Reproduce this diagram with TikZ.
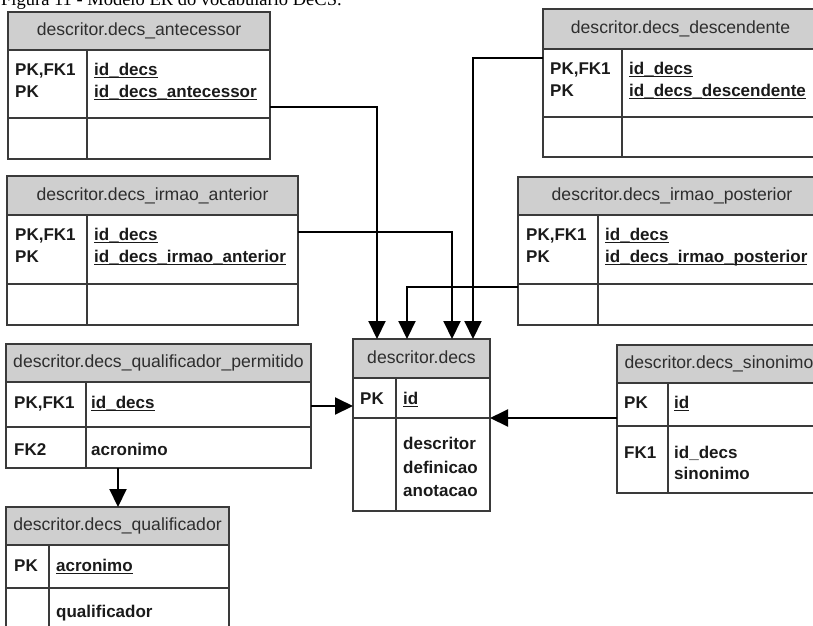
\documentclass[tikz,border=0pt]{standalone}
\usepackage{fontspec}
\setmainfont{Liberation Sans}
\newfontfamily\captionserif{Liberation Serif}
\usetikzlibrary{arrows.meta}

\definecolor{gridline}{HTML}{3A3A3A}
\definecolor{headfill}{HTML}{CFCFCF}
\definecolor{headtext}{HTML}{2E2E2E}
\definecolor{bodytext}{HTML}{1A1A1A}

% primary-key field: underlined just below the baseline
\newcommand\pkfield[1]{\setbox0\hbox{#1}\rlap{\rule[-3pt]{\wd0}{1.3pt}}\box0}

% one entity table: name, x-left, x-right, y-top, y-header, y-row, y-bottom, x-divider, title
\newcommand\ertable[9]{%
  \fill[headfill] (#2,#4) rectangle (#3,#5);
  \node[tableframe, minimum width={#3pt-#2pt}, minimum height={#7pt-#4pt}]
    (#1) at ({(#2+#3)/2},{(#4+#7)/2}) {};
  \draw[gridlines] (#2,#5) -- (#3,#5) (#2,#6) -- (#3,#6) (#8,#5) -- (#8,#7);
  \node[headlabel] (#1-title) at ({(#2+#3)/2},{(#4+#5)/2}) {#9};
}

\begin{document}
\begin{tikzpicture}[x=1pt, y=-1pt,
  tableframe/.style={draw=gridline, line width=1.4pt, rectangle, inner sep=0pt, outer sep=0pt},
  gridlines/.style={draw=gridline, line width=1.3pt},
  headlabel/.style={inner sep=0pt, text=headtext, text height=12.5pt, text depth=3pt,
    font=\fontsize{17.6}{20}\selectfont},
  fieldlabel/.style={anchor=base west, inner sep=0pt, text=bodytext,
    font=\fontsize{17}{20}\selectfont\bfseries},
  fklink/.style={draw=black, line width=2pt, line join=miter,
    -{Triangle[length=18pt, width=17pt]}}
]
\useasboundingbox (0,0) rectangle (813,625);
\clip (0,0) rectangle (813,625);

% caption line
\node[anchor=base west, inner sep=0pt, font=\captionserif\fontsize{18.5}{22}\selectfont]
  (caption) at (1,5) {Figura 11 - Modelo ER do vocabulário DeCS.};

% --- tables ---
\ertable{ant}{8}{270}{12}{50}{118}{159}{87}{descritor.decs\_antecessor}
\node[fieldlabel] (ant-k1) at (15,75) {PK,FK1};
\node[fieldlabel] (ant-k2) at (15,97) {PK};
\node[fieldlabel] (ant-f1) at (94,75) {\pkfield{id\_decs}};
\node[fieldlabel] (ant-f2) at (94,97) {\pkfield{id\_decs\_antecessor}};

\ertable{desc}{543}{818}{9}{49}{117}{157}{622}{descritor.decs\_descendente}
\node[fieldlabel] (desc-k1) at (550,74) {PK,FK1};
\node[fieldlabel] (desc-k2) at (550,96) {PK};
\node[fieldlabel] (desc-f1) at (629,74) {\pkfield{id\_decs}};
\node[fieldlabel] (desc-f2) at (629,96) {\pkfield{id\_decs\_descendente}};

\ertable{irant}{7}{298}{176}{215}{284}{325}{87}{descritor.decs\_irmao\_anterior}
\node[fieldlabel] (irant-k1) at (15,240) {PK,FK1};
\node[fieldlabel] (irant-k2) at (15,262) {PK};
\node[fieldlabel] (irant-f1) at (94,240) {\pkfield{id\_decs}};
\node[fieldlabel] (irant-f2) at (94,262) {\pkfield{id\_decs\_irmao\_anterior}};

\ertable{irpos}{518}{826}{177}{215}{284}{325}{598}{descritor.decs\_irmao\_posterior}
\node[fieldlabel] (irpos-k1) at (526,240) {PK,FK1};
\node[fieldlabel] (irpos-k2) at (526,262) {PK};
\node[fieldlabel] (irpos-f1) at (605,240) {\pkfield{id\_decs}};
\node[fieldlabel] (irpos-f2) at (605,262) {\pkfield{id\_decs\_irmao\_posterior}};

\ertable{decs}{353}{490}{339}{378}{418}{511}{396}{descritor.decs}
\node[fieldlabel] (decs-k1) at (360,404) {PK};
\node[fieldlabel] (decs-f1) at (403,404) {\pkfield{id}};
\node[fieldlabel] (decs-f2) at (403,449) {descritor};
\node[fieldlabel] (decs-f3) at (403,473) {definicao};
\node[fieldlabel] (decs-f4) at (403,496) {anotacao};

\ertable{qperm}{6}{311}{344}{382}{427}{468}{86}{descritor.decs\_qualificador\_permitido}
\node[fieldlabel] (qperm-k1) at (14,408) {PK,FK1};
\node[fieldlabel] (qperm-k2) at (14,455) {FK2};
\node[fieldlabel] (qperm-f1) at (91,408) {\pkfield{id\_decs}};
\node[fieldlabel] (qperm-f2) at (91,455) {acronimo};

\ertable{qual}{6}{229}{507}{545}{588}{640}{49}{descritor.decs\_qualificador}
\node[fieldlabel] (qual-k1) at (14,571) {PK};
\node[fieldlabel] (qual-f1) at (56,571) {\pkfield{acronimo}};
\node[fieldlabel] (qual-f2) at (56,617) {qualificador};

\ertable{sin}{617}{821}{345}{383}{426}{493}{668}{descritor.decs\_sinonimo}
\node[fieldlabel] (sin-k1) at (624,408) {PK};
\node[fieldlabel] (sin-k2) at (624,458) {FK1};
\node[fieldlabel] (sin-f1) at (674,408) {\pkfield{id}};
\node[fieldlabel] (sin-f2) at (674,458) {id\_decs};
\node[fieldlabel] (sin-f3) at (674,479) {sinonimo};

% --- relationship ports ---
\coordinate (ant-port)   at (270,107);
\coordinate (desc-port)  at (543,58);
\coordinate (irant-port) at (298,232);
\coordinate (irpos-port) at (518,287);
\coordinate (qperm-port) at (311,406);
\coordinate (qperm-foot) at (118,468);
\coordinate (sin-port)   at (617,418);
\coordinate (decs-in1) at (377,339);
\coordinate (decs-in2) at (407,339);
\coordinate (decs-in3) at (452,339);
\coordinate (decs-in4) at (473,339);
\coordinate (decs-inL) at (353,406);
\coordinate (decs-inR) at (490,418);
\coordinate (qual-in)  at (118,507);

% --- foreign-key links ---
\draw[fklink] (ant-port) -| (decs-in1);
\draw[fklink] (desc-port) -| (decs-in4);
\draw[fklink] (irant-port) -| (decs-in3);
\draw[fklink] (irpos-port) -| (decs-in2);
\draw[fklink] (qperm-port) -- (decs-inL);
\draw[fklink] (sin-port) -- (decs-inR);
\draw[fklink] (qperm-foot) -- (qual-in);
\end{tikzpicture}
\end{document}
